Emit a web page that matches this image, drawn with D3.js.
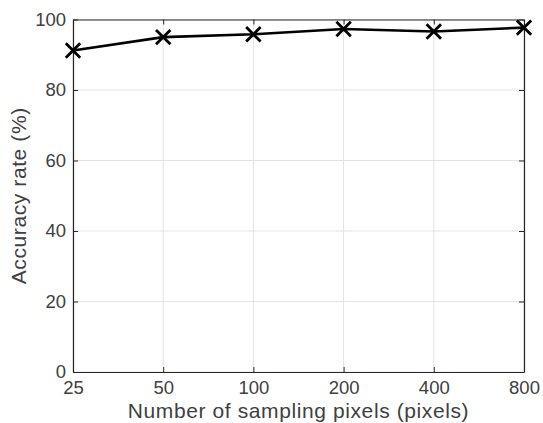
<!DOCTYPE html>
<html><head><meta charset="utf-8">
<script src="https://cdn.jsdelivr.net/npm/d3@7"></script>
<style>body{margin:0;background:#fff;} svg{display:block;}</style>
</head><body>
<svg id="c" width="543" height="423"></svg>
<script>
const categories = ["25","50","100","200","400","800"];
const accuracy = [91.2, 95.0, 95.8, 97.3, 96.6, 97.7];
const yTicks = [0,20,40,60,80,100];
const xLabel = "Number of sampling pixels (pixels)";
const yLabel = "Accuracy rate (%)";

const W=543,H=423, m={l:73,r:19,t:19.5,b:51};
const svg=d3.select("#c");
const x=d3.scalePoint().domain(categories).range([m.l,W-m.r]);
const y=d3.scaleLinear().domain([0,100]).range([H-m.b,m.t]);
const font="'Liberation Sans', Arial, Helvetica, sans-serif";
const axisCol="#262626", textCol="#404040";

// grid
svg.append("g").selectAll("line.gx").data(categories).join("line")
  .attr("x1",d=>x(d)).attr("x2",d=>x(d)).attr("y1",y(0)).attr("y2",y(100))
  .attr("stroke","#e3e3e3").attr("stroke-width",1);
svg.append("g").selectAll("line.gy").data(yTicks).join("line")
  .attr("x1",m.l).attr("x2",W-m.r).attr("y1",d=>y(d)).attr("y2",d=>y(d))
  .attr("stroke","#e3e3e3").attr("stroke-width",1);

// axes
const ax=svg.append("g").attr("transform",`translate(0,${y(0)})`)
  .call(d3.axisBottom(x).tickSizeInner(-5).tickSizeOuter(0).tickPadding(9));
const ay=svg.append("g").attr("transform",`translate(${m.l},0)`)
  .call(d3.axisLeft(y).tickValues(yTicks).tickSizeInner(-5).tickSizeOuter(0).tickPadding(7));
const at=svg.append("g").attr("transform",`translate(0,${y(100)})`)
  .call(d3.axisTop(x).tickSizeInner(-5).tickSizeOuter(0).tickFormat(""));
const ar=svg.append("g").attr("transform",`translate(${W-m.r},0)`)
  .call(d3.axisRight(y).tickValues(yTicks).tickSizeInner(-5).tickSizeOuter(0).tickFormat(""));
[ax,ay,at,ar].forEach(g=>{
  g.selectAll("path").attr("stroke",axisCol).attr("stroke-width",1.2);
  g.selectAll("line").attr("stroke",axisCol).attr("stroke-width",1);
  g.selectAll("text").attr("fill",textCol).style("font-family",font).style("font-size","18.5px");
});
ax.selectAll("text").attr("dy","0.71em");

// line
svg.append("path").datum(accuracy.map((v,i)=>[categories[i],v]))
  .attr("d",d3.line().x(d=>x(d[0])).y(d=>y(d[1])))
  .attr("fill","none").attr("stroke","#000").attr("stroke-width",2.6);

// markers
const s=7.2;
svg.append("g").selectAll("path").data(accuracy).join("path")
  .attr("transform",(d,i)=>`translate(${x(categories[i])},${y(d)})`)
  .attr("d",`M${-s},${-s}L${s},${s}M${-s},${s}L${s},${-s}`)
  .attr("stroke","#000").attr("stroke-width",2.8).attr("fill","none");

// labels
svg.append("text").attr("x",(m.l+W-m.r)/2).attr("y",417.5)
  .attr("text-anchor","middle").attr("fill",textCol)
  .style("font-family",font).style("font-size","21px").style("letter-spacing","0.6px").text(xLabel);
svg.append("text").attr("transform",`translate(26,${(y(0)+y(100))/2}) rotate(-90)`)
  .attr("text-anchor","middle").attr("fill",textCol)
  .style("font-family",font).style("font-size","21px").style("letter-spacing","0.6px").text(yLabel);
</script>
</body></html>
